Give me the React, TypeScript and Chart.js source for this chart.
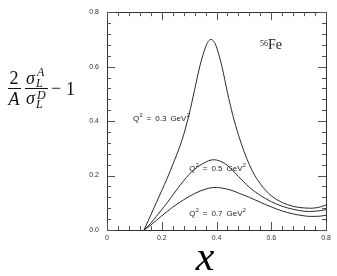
import React, { useEffect, useRef } from 'react';
import { Chart, registerables } from 'chart.js';
Chart.register(...registerables);

// x (Bjorken x) sample positions
const xValues = [0.135, 0.16, 0.18, 0.2, 0.22, 0.24, 0.26, 0.28, 0.3, 0.32, 0.34, 0.36, 0.37, 0.38, 0.39, 0.4, 0.42, 0.44, 0.46, 0.48, 0.5, 0.52, 0.54, 0.56, 0.58, 0.6, 0.62, 0.64, 0.66, 0.68, 0.7, 0.72, 0.74, 0.76, 0.78, 0.8];
// Q^2 = 0.3 GeV^2
const q03 = [0, 0.055, 0.1, 0.145, 0.19, 0.24, 0.29, 0.35, 0.425, 0.515, 0.605, 0.672, 0.693, 0.7, 0.693, 0.672, 0.6, 0.505, 0.42, 0.35, 0.29, 0.24, 0.2, 0.17, 0.145, 0.126, 0.112, 0.101, 0.093, 0.087, 0.083, 0.081, 0.08, 0.081, 0.085, 0.092];
// Q^2 = 0.5 GeV^2
const q05 = [0, 0.025, 0.05, 0.075, 0.1, 0.128, 0.155, 0.181, 0.204, 0.223, 0.238, 0.249, 0.254, 0.257, 0.258, 0.257, 0.25, 0.237, 0.218, 0.197, 0.176, 0.157, 0.141, 0.127, 0.115, 0.104, 0.095, 0.087, 0.081, 0.076, 0.072, 0.069, 0.068, 0.069, 0.071, 0.075];
// Q^2 = 0.7 GeV^2
const q07 = [0, 0.018, 0.035, 0.052, 0.068, 0.084, 0.098, 0.111, 0.123, 0.134, 0.143, 0.15, 0.153, 0.155, 0.156, 0.156, 0.154, 0.15, 0.144, 0.136, 0.128, 0.12, 0.111, 0.102, 0.093, 0.085, 0.077, 0.07, 0.064, 0.059, 0.055, 0.052, 0.05, 0.05, 0.051, 0.054];

const seriesQ2 = ['0.3', '0.5', '0.7'];
const labelX = [0.095, 0.3, 0.3];
const labelY = [0.411, 0.2275, 0.062];
const nucleusMass = '56';
const nucleusName = 'Fe';
const nucleusPos = { x: 0.559, y: 0.664 };
const axisMin = 0;
const axisMax = 0.8;
const majorStep = 0.2;
const minorStep = 0.04;

const SANS = '"Liberation Sans", Arial, sans-serif';
const SERIF = '"Liberation Serif", "Times New Roman", serif';

function drawQ(ctx: CanvasRenderingContext2D, x: number, y: number, val: string) {
  ctx.textAlign = 'left';
  ctx.textBaseline = 'alphabetic';
  const big = `8px ${SANS}`;
  const small = `5.5px ${SANS}`;
  const base = y + 3;
  let cx = x;
  ctx.font = big;
  ctx.fillText('Q', cx, base);
  cx += ctx.measureText('Q').width;
  ctx.font = small;
  ctx.fillText('2', cx + 0.3, base - 4);
  cx += ctx.measureText('2').width + 0.3 + 4;
  ctx.font = big;
  ctx.fillText('=', cx, base);
  cx += ctx.measureText('=').width + 4;
  ctx.fillText(val, cx, base);
  cx += ctx.measureText(val).width + 4;
  ctx.fillText('GeV', cx, base);
  cx += ctx.measureText('GeV').width;
  ctx.font = small;
  ctx.fillText('2', cx + 0.3, base - 4);
}

const annot = {
  id: 'annot',
  afterDraw(chart: any) {
    const ctx: CanvasRenderingContext2D = chart.ctx;
    const { left, right, top, bottom } = chart.chartArea;
    const xs = chart.scales.x;
    const ys = chart.scales.y;
    ctx.save();
    // frame
    ctx.strokeStyle = '#333';
    ctx.lineWidth = 1;
    ctx.strokeRect(Math.round(left) + 0.5, Math.round(top) + 0.5, Math.round(right - left), Math.round(bottom - top));
    // inner ticks
    const n = Math.round((axisMax - axisMin) / minorStep);
    ctx.strokeStyle = '#555';
    ctx.beginPath();
    for (let i = 0; i <= n; i++) {
      const v = axisMin + i * minorStep;
      const len = i % Math.round(majorStep / minorStep) === 0 ? 8 : 4;
      const px = Math.round(xs.getPixelForValue(v)) + 0.5;
      ctx.moveTo(px, bottom); ctx.lineTo(px, bottom - len);
      ctx.moveTo(px, top); ctx.lineTo(px, top + len);
      const py = Math.round(ys.getPixelForValue(v)) + 0.5;
      ctx.moveTo(left, py); ctx.lineTo(left + len, py);
      ctx.moveTo(right, py); ctx.lineTo(right - len, py);
    }
    ctx.stroke();

    // curve labels
    ctx.fillStyle = '#222';
    seriesQ2.forEach((q, i) => {
      drawQ(ctx, xs.getPixelForValue(labelX[i]), ys.getPixelForValue(labelY[i]), q);
    });

    // nucleus label
    const fx = xs.getPixelForValue(nucleusPos.x);
    const fy = ys.getPixelForValue(nucleusPos.y);
    ctx.textAlign = 'left';
    ctx.textBaseline = 'alphabetic';
    ctx.font = `8px ${SERIF}`;
    ctx.fillText(nucleusMass, fx, fy - 3);
    const mw = ctx.measureText(nucleusMass).width;
    ctx.font = `14px ${SERIF}`;
    ctx.fillText(nucleusName, fx + mw, fy);

    // x-axis title
    ctx.textAlign = 'center';
    ctx.font = `italic 42px ${SERIF}`;
    ctx.fillStyle = '#000';
    ctx.fillText('x', 205, 270);

    // y-axis label: 2/A * sigma_L^A / sigma_L^D - 1
    ctx.fillStyle = '#111';
    ctx.strokeStyle = '#111';
    ctx.lineWidth = 1;
    const bar = 88.5;
    ctx.textAlign = 'center';
    ctx.font = `18px ${SERIF}`;
    ctx.fillText('2', 14, 84);
    ctx.font = `italic 18px ${SERIF}`;
    ctx.fillText('A', 14, 105);
    ctx.beginPath();
    ctx.moveTo(8, bar); ctx.lineTo(21, bar);
    ctx.moveTo(25, bar); ctx.lineTo(48, bar);
    ctx.stroke();
    ctx.textAlign = 'left';
    ctx.font = `italic 18px ${SERIF}`;
    ctx.fillText('σ', 26, 84);
    ctx.fillText('σ', 26, 104);
    ctx.font = `italic 12px ${SERIF}`;
    ctx.fillText('A', 37, 76);
    ctx.fillText('L', 36, 87);
    ctx.fillText('D', 37, 99);
    ctx.fillText('L', 36, 108);
    ctx.font = `18px ${SERIF}`;
    ctx.fillText('−', 51, 94);
    ctx.fillText('1', 66, 95);
    ctx.restore();
  },
};

export default function App() {
  const ref = useRef<HTMLCanvasElement>(null);
  useEffect(() => {
    const mk = (vals: number[]) => xValues.map((x, i) => ({ x, y: vals[i] }));
    const chart = new Chart(ref.current!, {
      type: 'line',
      data: {
        datasets: [q03, q05, q07].map((s, i) => ({
          label: seriesQ2[i],
          data: mk(s),
          borderColor: '#2a2a2a',
          borderWidth: 1,
          pointRadius: 0,
          fill: false,
          tension: 0.4,
          cubicInterpolationMode: 'monotone' as const,
        })),
      },
      options: {
        responsive: false,
        animation: false,
        devicePixelRatio: 1,
        layout: { padding: { top: 12, right: 11, left: 0, bottom: 0 } },
        plugins: { legend: { display: false }, tooltip: { enabled: false } },
        scales: {
          x: {
            type: 'linear',
            min: axisMin,
            max: axisMax,
            grid: { display: false, drawTicks: false },
            border: { display: false },
            ticks: {
              stepSize: majorStep,
              padding: 4,
              maxRotation: 0,
              color: '#333',
              font: { family: SANS, size: 7 },
              callback: (v: any) => (Number(v) === 0 ? '0' : Number(v).toFixed(1)),
            },
            afterFit: (s: any) => { s.height = 46; },
          },
          y: {
            type: 'linear',
            min: axisMin,
            max: axisMax,
            grid: { display: false, drawTicks: false },
            border: { display: false },
            ticks: {
              stepSize: majorStep,
              padding: 8,
              color: '#333',
              font: { family: SANS, size: 7 },
              callback: (v: any) => Number(v).toFixed(1),
            },
            afterFit: (s: any) => { s.width = 107; },
          },
        },
      },
      plugins: [annot],
    });
    return () => chart.destroy();
  }, []);
  return (
    <div style={{ position: 'absolute', left: 0, top: 0, width: 337, height: 276, background: '#fff' }}>
      <canvas ref={ref} width={337} height={276} style={{ display: 'block' }} />
    </div>
  );
}
